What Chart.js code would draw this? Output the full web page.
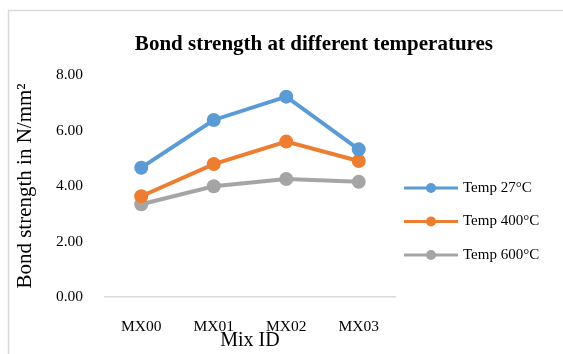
<!DOCTYPE html>
<html>
<head>
<meta charset="utf-8">
<script src="https://cdn.jsdelivr.net/npm/chart.js@4/dist/chart.umd.min.js"></script>
<style>
  html, body { margin: 0; padding: 0; background: #ffffff; }
  #wrap { width: 563px; height: 354px; position: relative; }
</style>
</head>
<body>
<div id="wrap"><canvas id="bondChart"></canvas></div>
<script>
// Bond strength (N/mm²) per mix, for each exposure temperature
const mixIds = ['MX00', 'MX01', 'MX02', 'MX03'];
const temp27 = [4.66, 6.38, 7.22, 5.32];
const temp400 = [3.63, 4.79, 5.60, 4.90];
const temp600 = [3.34, 3.99, 4.25, 4.15];
const seriesNames = ['Temp 27°C', 'Temp 400°C', 'Temp 600°C'];
const seriesColors = ['#5b9bd5', '#ed7d31', '#a5a5a5'];
const yMin = 0, yMax = 8, yStep = 2;

const SERIF = "'Liberation Serif', 'Times New Roman', serif";

// White background and the light frame around the chart
const frame = {
  id: 'frame',
  beforeDraw(chart) {
    const ctx = chart.ctx;
    ctx.save();
    ctx.fillStyle = '#ffffff';
    ctx.fillRect(0, 0, chart.width, chart.height);
    ctx.strokeStyle = '#d9d9d9';
    ctx.lineWidth = 1.5;
    ctx.strokeRect(8.5, 10.5, chart.width + 40, chart.height + 40);
    ctx.restore();
  }
};

// Legend placed in its own layout box to the right of the plot
const sideLegend = {
  id: 'sideLegend',
  beforeInit(chart) {
    const box = {
      position: 'right', weight: 10, fullSize: false, options: {},
      left: 0, top: 0, right: 0, bottom: 0, width: 0, height: 0,
      isHorizontal() { return false; },
      update(maxWidth, maxHeight) { this.width = 98; this.height = maxHeight; },
      draw() {
        const ctx = chart.ctx;
        ctx.save();
        chart.data.datasets.forEach((ds, i) => {
          const y = this.top + 113 + i * 33.5;
          const x0 = this.left + 9, x1 = this.left + 63;
          ctx.strokeStyle = ds.borderColor;
          ctx.lineWidth = 3;
          ctx.beginPath();
          ctx.moveTo(x0, y);
          ctx.lineTo(x1, y);
          ctx.stroke();
          ctx.fillStyle = ds.borderColor;
          ctx.beginPath();
          ctx.arc((x0 + x1) / 2, y, 5, 0, Math.PI * 2);
          ctx.fill();
          ctx.fillStyle = '#000000';
          ctx.font = '15px ' + SERIF;
          ctx.textAlign = 'left';
          ctx.textBaseline = 'middle';
          ctx.fillText(ds.label, this.left + 68, y);
        });
        ctx.restore();
      }
    };
    Chart.layouts.addBox(chart, box);
  }
};

const seriesValues = [temp27, temp400, temp600];
const datasets = seriesValues.map((vals, i) => ({
  label: seriesNames[i],
  data: vals,
  borderColor: seriesColors[i],
  backgroundColor: seriesColors[i],
  pointBackgroundColor: seriesColors[i],
  pointBorderColor: seriesColors[i],
  borderWidth: 4,
  pointRadius: 7,
  pointHoverRadius: 7,
  pointBorderWidth: 0,
  tension: 0,
  fill: false
}));

new Chart(document.getElementById('bondChart'), {
  type: 'line',
  data: { labels: mixIds, datasets },
  plugins: [frame, sideLegend],
  options: {
    responsive: true,
    maintainAspectRatio: false,
    animation: false,
    events: [],
    layout: { padding: { top: 0, left: 8, right: 70, bottom: 0 } },
    plugins: {
      legend: { display: false },
      tooltip: { enabled: false },
      title: {
        display: true,
        text: 'Bond strength at different temperatures',
        align: 'end',
        color: '#000000',
        font: { family: SERIF, size: 21, weight: 'bold', lineHeight: 1.2 },
        padding: { top: 32, bottom: 17.8 }
      }
    },
    scales: {
      x: {
        offset: true,
        grid: { display: false, drawTicks: false },
        border: { display: true, color: '#d9d9d9', width: 1.5 },
        ticks: { color: '#000000', font: { family: SERIF, size: 15.5 }, padding: 21 },
        title: {
          display: true, text: 'Mix ID', color: '#000000',
          font: { family: SERIF, size: 20, lineHeight: 1.2 },
          padding: { top: 0, bottom: 1 }
        },
        afterFit(scale) { scale.height = 57; }
      },
      y: {
        min: yMin, max: yMax,
        grid: { display: false, drawTicks: false },
        border: { display: false },
        ticks: {
          stepSize: yStep, color: '#000000', padding: 22,
          font: { family: SERIF, size: 15.5 },
          callback: (v) => Number(v).toFixed(2)
        },
        title: {
          display: true, text: 'Bond strength in N/mm²', color: '#000000',
          font: { family: SERIF, size: 21, lineHeight: 1.2 },
          padding: { top: 5, bottom: 0 }
        },
        afterFit(scale) { scale.width = 97; }
      }
    }
  }
});
</script>
</body>
</html>
